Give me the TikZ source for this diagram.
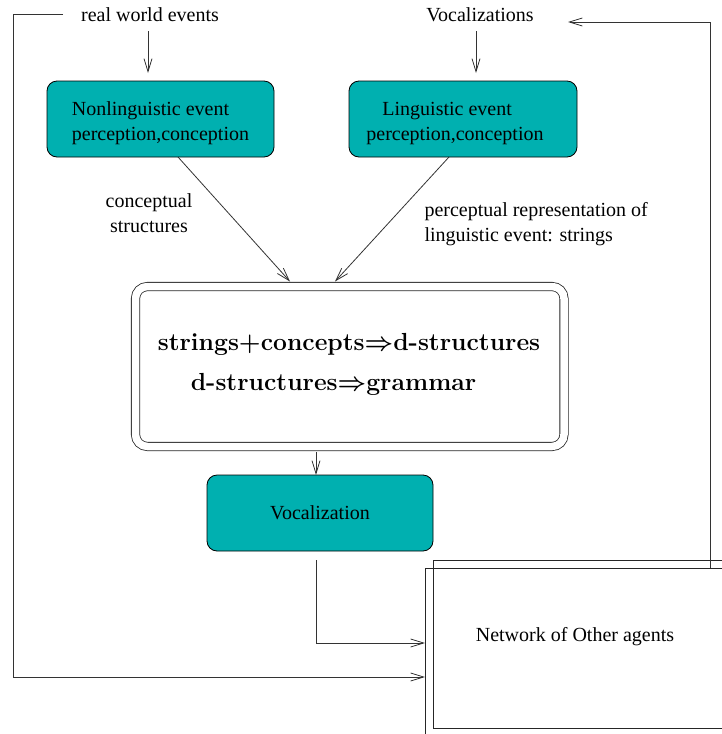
\documentclass[tikz,border=0pt]{standalone}
\usepackage{fontspec}
\setmainfont{Liberation Serif}
\newfontfamily\lmfont{Latin Modern Roman}
\usetikzlibrary{arrows.meta,calc}
\definecolor{tealbox}{RGB}{0,176,176}
\begin{document}
\begin{tikzpicture}[x=1pt,y=-1pt,
  every node/.style={font=\fontsize{20}{25}\selectfont},
  arr/.style={draw=black!80, line width=0.8pt, -{Straight Barb[length=13pt,width=8pt]}},
  tealnode/.style={draw=black, line width=0.8pt, fill=tealbox, rounded corners=10pt, inner sep=0pt}]
\useasboundingbox (0,0) rectangle (722,734);
\clip (0,0) rectangle (722,734);

% top labels
\node (rwe) at (150,15) {real world events};
\node (vocs) at (480,15) {Vocalizations};

% teal boxes
\node[tealnode, minimum width=227pt, minimum height=76pt] (nl) at (160.5,119) {};
\node[align=left] (nltext) at (160.5,123)
  {Nonlinguistic event\\perception,conception};
\node[tealnode, minimum width=228pt, minimum height=76pt] (li) at (463,119) {};
\node[align=left] (litext) at (463,124)
  {\hspace*{16pt}Linguistic event\\perception,conception\hspace*{16pt}};
\node[tealnode, minimum width=226pt, minimum height=76pt] (voc) at (320,513) {Vocalization};

% central double box
\node[draw=black!85, line width=0.8pt, double, double distance=7.5pt, rounded corners=12pt,
      minimum width=428.5pt, minimum height=160pt] (core) at (349.75,366.5) {};
\node[align=left, font=\lmfont\fontsize{24.7}{40}\selectfont\bfseries\boldmath] (coretext) at (349,364)
  {strings$+$concepts$\Rightarrow$d-structures\\\hspace*{33pt}d-structures$\Rightarrow$grammar};

% edge labels
\node[align=center] (cs) at (149,213) {conceptual\\structures};
\node[align=left, anchor=west] (pr) at (421,224) {perceptual representation of\\linguistic event: strings};

% network boxes
\node[draw=black!85, line width=0.8pt, minimum width=320pt, minimum height=168pt, anchor=north west] (netA) at (433,560) {};
\node[draw=black!85, line width=0.8pt, minimum width=320pt, minimum height=200pt, anchor=north west] (netB) at (425,568) {};
\node (nettext) at (575,637) {Network of Other agents};

% coordinates
\coordinate (rweA) at (148,31);
\coordinate (rweB) at (148,73);
\coordinate (vocA) at (476,31);
\coordinate (vocB) at (476,73);
\coordinate (nlS) at (178,157);
\coordinate (coreL) at (290,281.5);
\coordinate (liS) at (449,157);
\coordinate (coreR) at (335,281.5);
\coordinate (coreB) at (316,452);
\coordinate (vocT) at (316,475);
\coordinate (v0) at (316,560);
\coordinate (n1) at (425,643);
\coordinate (l0) at (63,14);
\coordinate (l1) at (13,14);
\coordinate (n2) at (425,677);
\coordinate (r0) at (710,568);
\coordinate (r1) at (568,22);

% connectors
\draw[arr] (rweA) -- (rweB);
\draw[arr] (vocA) -- (vocB);
\draw[arr] (nlS) -- (coreL);
\draw[arr] (liS) -- (coreR);
\draw[arr] (coreB) -- (vocT);
\draw[arr] (v0) |- (n1);
\draw[arr] (l0) -- (l1) |- (n2);
\draw[arr] (r0) |- (r1);
\end{tikzpicture}
\end{document}
